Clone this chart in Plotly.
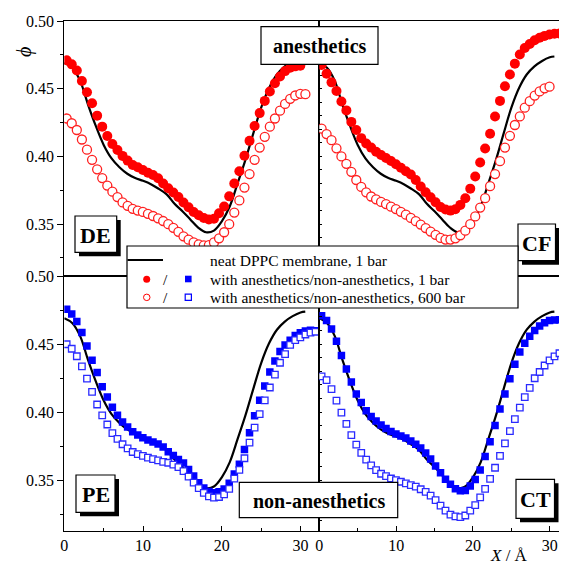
import plotly.graph_objects as go

# the page shows the figure from x=8..559 and y=8..565
OFF = 8
W, H = 559 - OFF, 565 - OFF
FONT = "Liberation Serif"

# ---------------- data ----------------
X = [0.300, 0.945, 1.590, 2.235, 2.880, 3.525, 4.170, 4.815, 5.460, 6.105,
     6.750, 7.395, 8.040, 8.685, 9.330, 9.975, 10.620, 11.265, 11.910, 12.555,
     13.200, 13.845, 14.490, 15.135, 15.780, 16.425, 17.070, 17.715, 18.360, 19.005,
     19.650, 20.295, 20.940, 21.585, 22.230, 22.875, 23.520, 24.165, 24.810, 25.455,
     26.100, 26.745, 27.390, 28.035, 28.680, 29.325, 29.970, 30.615, 31.260, 31.905]

NEAT_X = [0, 1, 2, 3, 4, 5, 6, 7, 8, 9, 10, 11, 12, 13, 14, 15, 16, 17, 18, 19,
          20, 21, 22, 23, 24, 25, 26, 27, 28, 29, 30, 30.6]
NEAT_PHI = [0.469, 0.4655, 0.456, 0.4385, 0.4225, 0.4085, 0.3985, 0.392, 0.3872, 0.3840,
            0.3820, 0.3795, 0.3760, 0.3720, 0.3650, 0.3595, 0.3535, 0.3475, 0.3440, 0.3452,
            0.352, 0.363, 0.380, 0.3975, 0.417, 0.436, 0.4505, 0.4605, 0.4665, 0.4705,
            0.4732, 0.4738]

DE_1BAR = [0.471, 0.468, 0.4635, 0.4557, 0.4474, 0.4393, 0.4301, 0.422, 0.4151, 0.4092,
           0.4048, 0.4004, 0.3969, 0.3937, 0.392, 0.390, 0.388, 0.3863, 0.3839, 0.380,
           0.3765, 0.3733, 0.370, 0.366, 0.3625, 0.359, 0.3565, 0.3545, 0.3535, 0.354,
           0.358, 0.363, 0.3705, 0.380, 0.389, 0.4005, 0.4115, 0.4225, 0.432, 0.441,
           0.448, 0.454, 0.459, 0.463, 0.4655, 0.4665, 0.467]
DE_600BAR = [0.428, 0.4245, 0.4195, 0.4125, 0.405, 0.3975, 0.3905, 0.384, 0.3785, 0.374,
             0.370, 0.366, 0.3635, 0.3613, 0.360, 0.359, 0.3576, 0.356, 0.3543, 0.3523,
             0.350, 0.3473, 0.3443, 0.341, 0.3385, 0.3365, 0.335, 0.3343, 0.3345, 0.3365,
             0.3395, 0.344, 0.350, 0.3585, 0.3675, 0.377, 0.387, 0.3975, 0.4065, 0.4145,
             0.422, 0.428, 0.4338, 0.4388, 0.4425, 0.445, 0.4462, 0.446]

CF_1BAR = [0.4675, 0.461, 0.4547, 0.4483, 0.4405, 0.434, 0.4255, 0.4195, 0.4135, 0.4095,
           0.4065, 0.4035, 0.401, 0.3988, 0.3966, 0.3942, 0.3916, 0.389, 0.3866, 0.3826,
           0.3778, 0.3735, 0.3698, 0.3662, 0.3627, 0.3608, 0.360, 0.361, 0.3642, 0.3691,
           0.3762, 0.3852, 0.3955, 0.4058, 0.4168, 0.4295, 0.441, 0.4518, 0.4605, 0.4685,
           0.4752, 0.480, 0.483, 0.4858, 0.4876, 0.489, 0.490, 0.4906, 0.4908]
CF_600BAR = [0.4205, 0.4165, 0.412, 0.406, 0.400, 0.3945, 0.3886, 0.3826, 0.3775, 0.3735,
             0.3704, 0.3683, 0.3664, 0.3648, 0.3629, 0.3611, 0.3591, 0.357, 0.3546, 0.3522,
             0.3497, 0.3471, 0.3445, 0.3421, 0.3398, 0.3386, 0.3386, 0.3395, 0.3418, 0.3452,
             0.350, 0.3557, 0.3622, 0.3692, 0.378, 0.387, 0.3965, 0.4065, 0.4152, 0.4232,
             0.4295, 0.436, 0.4408, 0.4449, 0.448, 0.4503, 0.4515]

PE_1BAR = [0.4755, 0.472, 0.4665, 0.4585, 0.4485, 0.438, 0.429, 0.4185, 0.411, 0.4035,
           0.3976, 0.3927, 0.389, 0.3855, 0.383, 0.3811, 0.3794, 0.378, 0.3764, 0.3742,
           0.3708, 0.368, 0.365, 0.3625, 0.3578, 0.353, 0.348, 0.3442, 0.3416, 0.3407,
           0.3414, 0.3433, 0.3476, 0.3545, 0.3615, 0.3725, 0.3848, 0.3972, 0.4087, 0.4192,
           0.4295, 0.4375, 0.4445, 0.4493, 0.4527, 0.4562, 0.4583, 0.4596, 0.4602, 0.4598]
PE_600BAR = [0.4498, 0.4465, 0.441, 0.4335, 0.4245, 0.4148, 0.4055, 0.3975, 0.3908, 0.3845,
             0.3802, 0.3763, 0.3732, 0.3706, 0.369, 0.3677, 0.3664, 0.3653, 0.3645, 0.3634,
             0.3627, 0.3613, 0.3595, 0.3565, 0.3525, 0.348, 0.344, 0.3405, 0.338, 0.337,
             0.3375, 0.3395, 0.3435, 0.351, 0.3575, 0.366, 0.3775, 0.3885, 0.3985, 0.4085,
             0.418, 0.4275, 0.4362, 0.4426, 0.4493, 0.4528, 0.4548, 0.457, 0.4583, 0.459]

CT_1BAR = [0.4708, 0.4672, 0.461, 0.452, 0.4415, 0.4316, 0.422, 0.4132, 0.407, 0.401,
           0.3966, 0.3933, 0.3904, 0.3878, 0.3856, 0.3838, 0.3824, 0.3808, 0.3787, 0.3762,
           0.3736, 0.3698, 0.3655, 0.3603, 0.3553, 0.3505, 0.3468, 0.3435, 0.3421, 0.3423,
           0.3455, 0.3504, 0.3573, 0.3672, 0.3782, 0.390, 0.4022, 0.4133, 0.4245, 0.4352,
           0.4442, 0.4505, 0.4557, 0.460, 0.4633, 0.4657, 0.4672, 0.4677, 0.4678]
CT_600BAR = [0.4262, 0.4234, 0.4168, 0.4083, 0.3995, 0.3912, 0.383, 0.376, 0.370, 0.365,
             0.3607, 0.3573, 0.3546, 0.3528, 0.3511, 0.3499, 0.3487, 0.3475, 0.3462, 0.3451,
             0.3432, 0.3413, 0.3385, 0.3352, 0.3312, 0.3275, 0.3245, 0.3232, 0.3227, 0.3239,
             0.3275, 0.3315, 0.3372, 0.3435, 0.3508, 0.359, 0.3678, 0.377, 0.386, 0.3948,
             0.4032, 0.411, 0.4177, 0.4248, 0.4294, 0.4342, 0.438, 0.4409, 0.4432]

Y_TICKS = [0.35, 0.40, 0.45, 0.50]
Y_TICKTEXT = ["0.35", "0.40", "0.45", "0.50"]
X_TICKS = [0, 10, 20, 30]
X_TICKTEXT = ["0", "10", "20", "30"]

PANELS = [
    # name, xaxis, yaxis, filled series, open series, color, symbol
    ("DE", "x", "y", DE_1BAR, DE_600BAR, "#ff0000", "circle"),
    ("CF", "x2", "y2", CF_1BAR, CF_600BAR, "#ff0000", "circle"),
    ("PE", "x3", "y3", PE_1BAR, PE_600BAR, "#0000ff", "square"),
    ("CT", "x4", "y4", CT_1BAR, CT_600BAR, "#0000ff", "square"),
]

# ---------------- figure ----------------
fig = go.Figure()
for name, xa, ya, filled, opened, col, sym in PANELS:
    size = 10 if sym == "circle" else 7.5
    fig.add_trace(go.Scatter(x=NEAT_X, y=NEAT_PHI, xaxis=xa, yaxis=ya, mode="lines",
                             line=dict(color="black", width=2.2, shape="spline"),
                             showlegend=False, hoverinfo="skip"))
    fig.add_trace(go.Scatter(x=X[:len(filled)], y=filled, xaxis=xa, yaxis=ya, mode="markers",
                             marker=dict(symbol=sym, size=size, color=col, line=dict(width=0)),
                             showlegend=False))
    ocol = "#ff2020" if sym == "circle" else "#2a2aff"
    fig.add_trace(go.Scatter(x=X[:len(opened)], y=opened, xaxis=xa, yaxis=ya, mode="markers",
                             marker=dict(symbol=sym, size=size - 1, color="white",
                                         line=dict(width=1.3, color=ocol)),
                             showlegend=False))


def px_x(p):
    return (p - OFF) / W


def px_y(p):
    return 1 - (p - OFF) / H


XL = [px_x(64.3), px_x(319.3)]
XR = [px_x(319.3), 1.0]
YT = [px_y(276), px_y(21)]
YB = [px_y(531), px_y(276)]
XRANGE_L = [0, 32.38]
XRANGE_R = [0, 31.2]
YRANGE_T = [0.3117, 0.50]
YRANGE_B = [0.3125, 0.50]

tickfont = dict(family=FONT, size=16, color="black")
common = dict(showgrid=False, zeroline=False, showline=True, linecolor="black", linewidth=1.2,
              automargin=False)


def yleft(domain, rng, anchor):
    return dict(domain=domain, range=rng, anchor=anchor, tickvals=Y_TICKS, ticktext=Y_TICKTEXT,
                ticks="outside", ticklen=6, tickwidth=1.2, tickcolor="black", tickfont=tickfont,
                minor=dict(tickvals=[0.325, 0.375, 0.425, 0.475], ticks="outside", ticklen=3,
                           tickcolor="black"),
                mirror=True, **common)


def yright(domain, rng, anchor):
    return dict(domain=domain, range=rng, anchor=anchor, showticklabels=False,
                ticks="inside", tickmode="linear", tick0=0.30, dtick=0.01, ticklen=3,
                tickcolor="black", mirror=False, **common)


def xbottom(domain, rng, anchor, labels):
    d = dict(domain=domain, range=rng, anchor=anchor, mirror=True, **common)
    if labels:
        d.update(tickvals=X_TICKS, ticktext=X_TICKTEXT, ticks="inside", ticklen=5,
                 tickcolor="black", tickfont=tickfont, ticklabeloverflow="allow",
                 minor=dict(tickvals=[5, 15, 25], ticks="inside", ticklen=3, tickcolor="black"))
    else:
        d.update(showticklabels=False, ticks="")
    return d


fig.update_layout(
    template="none",
    width=W, height=H, autosize=False,
    margin=dict(l=0, r=0, t=0, b=0, pad=0),
    paper_bgcolor="white", plot_bgcolor="white",
    font=dict(family=FONT, color="black"),
    showlegend=False,
    xaxis=xbottom(XL, XRANGE_L, "y", False),
    yaxis=yleft(YT, YRANGE_T, "x"),
    xaxis2=xbottom(XR, XRANGE_R, "y2", False),
    yaxis2=yright(YT, YRANGE_T, "x2"),
    xaxis3=xbottom(XL, XRANGE_L, "y3", True),
    yaxis3=yleft(YB, YRANGE_B, "x3"),
    xaxis4=xbottom(XR, XRANGE_R, "y4", True),
    yaxis4=yright(YB, YRANGE_B, "x4"),
)

shapes = []
annotations = []


def rect(x0, y0, x1, y1, fill="white", lw=1.2):
    shapes.append(dict(type="rect", xref="paper", yref="paper", layer="above",
                       x0=px_x(x0), x1=px_x(x1), y0=px_y(y1), y1=px_y(y0),
                       fillcolor=fill, line=dict(color="black", width=lw)))


def label(text, cx, cy, size, bold=True, xanchor="center", **kw):
    t = f"<b>{text}</b>" if bold else text
    annotations.append(dict(text=t, x=px_x(cx), y=px_y(cy), xref="paper", yref="paper",
                            xanchor=xanchor, yanchor="middle", showarrow=False,
                            font=dict(family=FONT, size=size, color="black"), **kw))


# panel name boxes with drop shadow
for (x0, y0, x1, y1, txt) in [(75, 216, 116.7, 252.3, "DE"), (518, 224, 555.5, 260.7, "CF"),
                              (76, 475, 115, 512.3, "PE"), (516, 479.3, 554.5, 518.3, "CT")]:
    rect(x0 + 4, y0 + 4, x1 + 4, y1 + 4, fill="black", lw=0)
    rect(x0, y0, x1, y1)
    label(txt, (x0 + x1) / 2, (y0 + y1) / 2 + 1, 22)

rect(261, 26.7, 378, 64.3)
label("anesthetics", 319.5, 46, 20)
rect(239.3, 482.3, 397.7, 517.7)
label("non-anesthetics", 318.5, 500.5, 20)

# legend box
rect(127, 246, 518, 308)
shapes.append(dict(type="line", xref="paper", yref="paper", layer="above",
                   x0=px_x(127.5), x1=px_x(163), y0=px_y(260), y1=px_y(260),
                   line=dict(color="black", width=2.2)))
shapes.append(dict(type="circle", xref="paper", yref="paper", layer="above",
                   x0=px_x(143.2), x1=px_x(150.2), y0=px_y(282.8), y1=px_y(275.8),
                   fillcolor="#ff0000", line=dict(width=0)))
shapes.append(dict(type="rect", xref="paper", yref="paper", layer="above",
                   x0=px_x(185), x1=px_x(191.6), y0=px_y(282.3), y1=px_y(275.7),
                   fillcolor="#0000ff", line=dict(width=0)))
shapes.append(dict(type="circle", xref="paper", yref="paper", layer="above",
                   x0=px_x(143.5), x1=px_x(150), y0=px_y(300.6), y1=px_y(294.1),
                   fillcolor="white", line=dict(color="#ff0000", width=1)))
shapes.append(dict(type="rect", xref="paper", yref="paper", layer="above",
                   x0=px_x(185.2), x1=px_x(191.4), y0=px_y(300.4), y1=px_y(294.2),
                   fillcolor="white", line=dict(color="#0000ff", width=1.2)))
for cy in (279.3, 297.3):
    label("/", 165, cy, 15.5, bold=False)
label("neat DPPC membrane, 1 bar", 208, 260, 15.5, bold=False, xanchor="left")
label("with anesthetics/non-anesthetics, 1 bar", 208, 279.3, 15.5, bold=False, xanchor="left")
label("with anesthetics/non-anesthetics, 600 bar", 208, 297.3, 15.5, bold=False, xanchor="left")

# axis titles
label("<i>ϕ</i>", 25, 52, 20, bold=False, textangle=-90)
label("<i>X</i> / Å", 509, 555, 17, bold=False)

fig.update_layout(shapes=shapes, annotations=annotations)
fig.write_html("out.html")
